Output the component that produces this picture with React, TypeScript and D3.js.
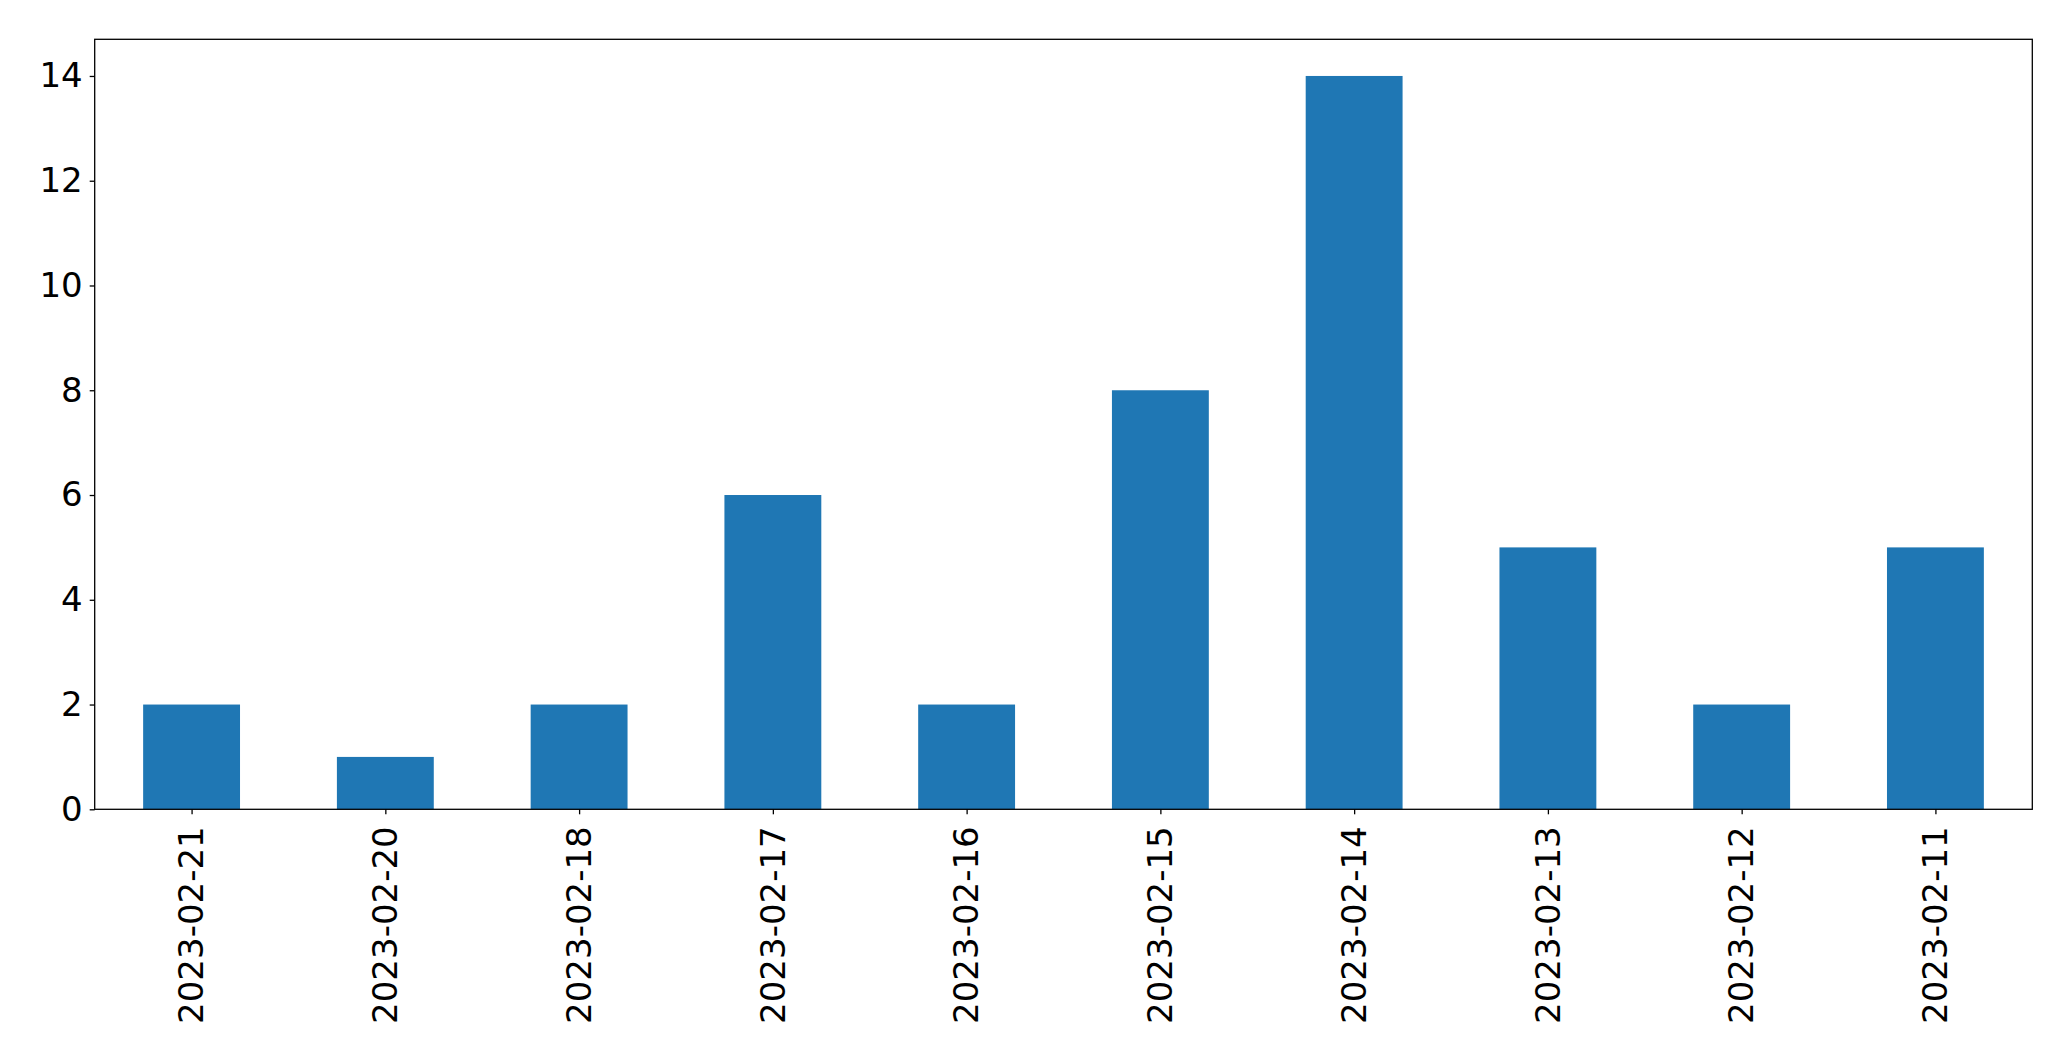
import React, { useEffect, useRef } from 'react';
import * as d3 from 'd3';

// dates on the x axis (as in the source order)
const dates = [
    '2023-02-21', '2023-02-20', '2023-02-18', '2023-02-17', '2023-02-16',
    '2023-02-15', '2023-02-14', '2023-02-13', '2023-02-12', '2023-02-11',
];
const counts = [2, 1, 2, 6, 2, 8, 14, 5, 2, 5];
const yTicks = [0, 2, 4, 6, 8, 10, 12, 14];

const App = () => {
    const svgRef = useRef(null);

    useEffect(() => {
        const svg = d3.select(svgRef.current);
        svg.selectAll('*').remove();

        const width = 2071;
        const height = 1061;
        const margin = { top: 39.3, right: 38.7, bottom: 251.7, left: 94.7 };
        const innerWidth = width - margin.left - margin.right;
        const innerHeight = height - margin.top - margin.bottom;
        const font = '"DejaVu Sans", sans-serif';

        // pandas-style bar layout: categories at 0..n-1, limits -0.5..n-0.5
        const xScale = d3.scaleLinear()
            .domain([-0.5, dates.length - 0.5])
            .range([0, innerWidth]);

        const yScale = d3.scaleLinear()
            .domain([0, 14.7])
            .range([innerHeight, 0]);

        const g = svg.append('g').attr('transform', `translate(${margin.left},${margin.top})`);

        // bars
        g.selectAll('rect.bar')
            .data(counts)
            .join('rect')
            .attr('class', 'bar')
            .attr('x', (_, i) => xScale(i - 0.25))
            .attr('width', xScale(0.25) - xScale(-0.25))
            .attr('y', d => yScale(d))
            .attr('height', d => yScale(0) - yScale(d))
            .attr('fill', '#1f77b4');

        // y axis
        const yAxis = g.append('g')
            .call(d3.axisLeft(yScale).tickValues(yTicks).tickSize(5).tickPadding(7).tickFormat(d3.format('d')));
        yAxis.select('.domain').remove();
        yAxis.selectAll('line').attr('stroke', '#000').attr('stroke-width', 1.3);
        yAxis.selectAll('text')
            .attr('font-family', font)
            .attr('font-size', 34)
            .attr('fill', '#000');

        // x axis
        const xAxis = g.append('g')
            .attr('transform', `translate(0,${innerHeight})`)
            .call(d3.axisBottom(xScale).tickValues(d3.range(dates.length)).tickSize(5).tickFormat((d: any) => dates[d]));
        xAxis.select('.domain').remove();
        xAxis.selectAll('line').attr('stroke', '#000').attr('stroke-width', 1.3);
        xAxis.selectAll('text')
            .attr('font-family', font)
            .attr('font-size', 34)
            .attr('fill', '#000')
            .attr('transform', 'rotate(-90)')
            .attr('x', -17)
            .attr('y', 0)
            .attr('dy', '0.33em')
            .attr('text-anchor', 'end');

        // frame (all four spines)
        g.append('rect')
            .attr('x', 0)
            .attr('y', 0)
            .attr('width', innerWidth)
            .attr('height', innerHeight)
            .attr('fill', 'none')
            .attr('stroke', '#000')
            .attr('stroke-width', 1.3);
    }, []);

    return (
        <svg ref={svgRef} width={2071} height={1061}
             style={{ position: 'absolute', left: 0, top: 0, background: '#fff' }} />
    );
};

export default App;
